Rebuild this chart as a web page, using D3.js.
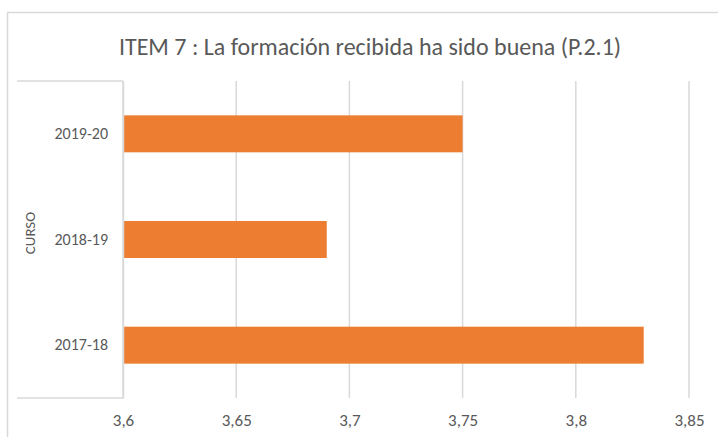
<!DOCTYPE html>
<html><head><meta charset="utf-8">
<script src="https://cdn.jsdelivr.net/npm/d3@7"></script>
<style>body{margin:0;background:#fff;} svg{display:block;}</style>
</head><body>
<svg id="c" width="718" height="437"></svg>
<script>
const categories = ["2019-20", "2018-19", "2017-18"];
const values = [3.75, 3.69, 3.83];
const tickValues = [3.6, 3.65, 3.7, 3.75, 3.8, 3.85];
const title = "ITEM 7 : La formación recibida ha sido buena (P.2.1)";
const yTitle = "CURSO";

(function () {
const svg = d3.select("#c");
const font = "Carlito, Calibri, 'Liberation Sans Narrow', 'Open Sans', sans-serif";
const pLeft = 123, pRight = 689, pTop = 81, pBottom = 398;
const x = d3.scaleLinear().domain([3.6, 3.85]).range([pLeft, pRight]);
const y = d3.scaleBand().domain(categories).range([pTop, pBottom]).paddingInner(0.65).paddingOuter(0.325);
const fmt = d3.formatLocale({decimal: ",", thousands: ".", grouping: [3], currency: ["", "€"]}).format("~g");

svg.append("rect").attr("x", 7.5).attr("y", 12.5).attr("width", 740).attr("height", 460)
  .attr("fill", "none").attr("stroke", "#d9d9d9").attr("stroke-width", 1.5);

svg.append("g").selectAll("line").data(tickValues).join("line")
  .attr("x1", d => x(d)).attr("x2", d => x(d)).attr("y1", pTop).attr("y2", pBottom)
  .attr("stroke", "#d9d9d9").attr("stroke-width", 1.5);

svg.append("line").attr("x1", 17).attr("x2", pLeft).attr("y1", pTop).attr("y2", pTop).attr("stroke", "#d9d9d9").attr("stroke-width", 1.5);
svg.append("line").attr("x1", 17).attr("x2", pLeft).attr("y1", pBottom).attr("y2", pBottom).attr("stroke", "#d9d9d9").attr("stroke-width", 1.5);

svg.append("g").selectAll("rect").data(categories).join("rect")
  .attr("x", x(3.6) + 1).attr("y", d => y(d))
  .attr("width", (d, i) => x(values[i]) - x(3.6) - 1).attr("height", y.bandwidth())
  .attr("fill", "#ED7D31");

const xa = svg.append("g").attr("transform", `translate(0,${pBottom})`)
  .call(d3.axisBottom(x).tickValues(tickValues).tickFormat(fmt).tickSize(0).tickPadding(16));
xa.select(".domain").remove();
xa.selectAll("text").attr("font-family", font).attr("font-size", 17).attr("fill", "#595959");

const ya = svg.append("g").attr("transform", `translate(${pLeft},0)`)
  .call(d3.axisLeft(y).tickSize(0).tickPadding(15));
ya.select(".domain").attr("stroke", "#d9d9d9").attr("stroke-width", 1.5);
ya.selectAll("text").attr("font-family", font).attr("font-size", 16).attr("fill", "#595959");

svg.append("text").attr("x", 370).attr("y", 55).attr("text-anchor", "middle")
  .attr("font-family", font).attr("font-size", 24).attr("fill", "#595959").text(title);
svg.append("text").attr("transform", "translate(35,233) rotate(-90)").attr("text-anchor", "middle")
  .attr("font-family", font).attr("font-size", 15).attr("fill", "#595959").text(yTitle);
})();
</script>
</body></html>
